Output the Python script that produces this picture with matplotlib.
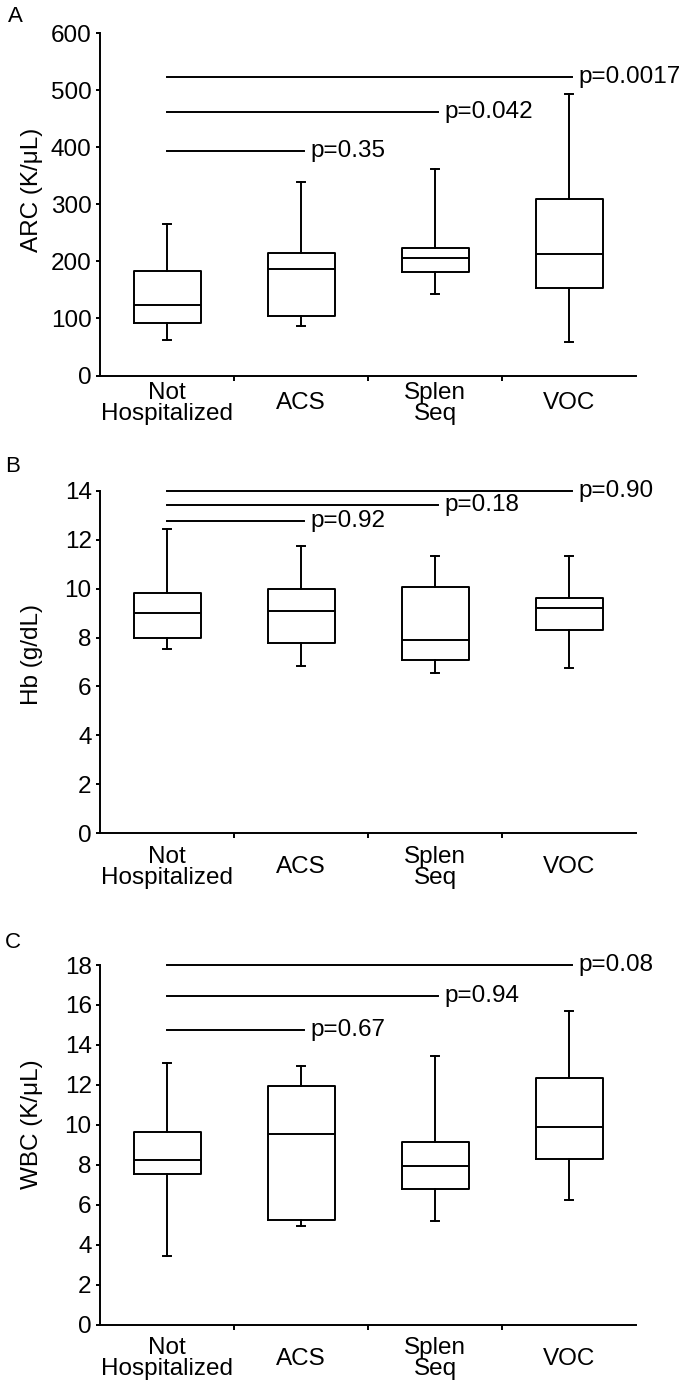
import matplotlib
matplotlib.use("Agg")
import matplotlib.pyplot as plt

plt.rcParams['font.family'] = ['Liberation Sans', 'DejaVu Sans']

categories = ["Not\nHospitalized", "ACS", "Splen\nSeq", "VOC"]

# Panel A: ARC (K/uL)
arc_whislo = [63, 86, 143, 59]
arc_q1 = [92, 104, 181, 153]
arc_med = [123, 186, 206, 213]
arc_q3 = [184, 215, 224, 310]
arc_whishi = [265, 340, 362, 494]
arc_pvals = ["p=0.35", "p=0.042", "p=0.0017"]
arc_plines = [393, 462, 524]

# Panel B: Hb (g/dL)
hb_whislo = [7.53, 6.83, 6.55, 6.76]
hb_q1 = [8.0, 7.79, 7.08, 8.30]
hb_med = [9.0, 9.09, 7.89, 9.21]
hb_q3 = [9.80, 10.0, 10.08, 9.6]
hb_whishi = [12.42, 11.72, 11.32, 11.32]
hb_pvals = ["p=0.92", "p=0.18", "p=0.90"]
hb_plines = [12.78, 13.4, 14.0]

# Panel C: WBC (K/uL)
wbc_whislo = [3.42, 4.92, 5.18, 6.25]
wbc_q1 = [7.53, 5.23, 6.77, 8.28]
wbc_med = [8.23, 9.53, 7.93, 9.9]
wbc_q3 = [9.63, 11.95, 9.12, 12.32]
wbc_whishi = [13.1, 12.92, 13.45, 15.68]
wbc_pvals = ["p=0.67", "p=0.94", "p=0.08"]
wbc_plines = [14.75, 16.45, 18.0]

H = 1392.0
panels = [
    dict(letter="A", ylabel="ARC (K/\u03bcL)", ylim=600, yticks=range(0, 601, 100),
         lo=arc_whislo, q1=arc_q1, med=arc_med, q3=arc_q3, hi=arc_whishi,
         pv=arc_pvals, pl=arc_plines, top=33.3, bot=375.5, lab_y=0.541,
         let_xy=(15, 16), xpad=20),
    dict(letter="B", ylabel="Hb (g/dL)", ylim=14, yticks=range(0, 15, 2),
         lo=hb_whislo, q1=hb_q1, med=hb_med, q3=hb_q3, hi=hb_whishi,
         pv=hb_pvals, pl=hb_plines, top=490.7, bot=833.3, lab_y=0.523,
         let_xy=(13, 466), xpad=24.5),
    dict(letter="C", ylabel="WBC (K/\u03bcL)", ylim=18, yticks=range(0, 19, 2),
         lo=wbc_whislo, q1=wbc_q1, med=wbc_med, q3=wbc_q3, hi=wbc_whishi,
         pv=wbc_pvals, pl=wbc_plines, top=965, bot=1324.5, lab_y=0.556,
         let_xy=(13, 942), xpad=24.5),
]

fig = plt.figure(figsize=(6.87, 13.92), dpi=100)
FS = 17.5
LW = 1.4
left, width = 100 / 687, 536 / 687

for p in panels:
    ax = fig.add_axes([left, 1 - p["bot"] / H, width, (p["bot"] - p["top"]) / H])
    stats = []
    for i in range(4):
        stats.append(dict(whislo=p["lo"][i], q1=p["q1"][i], med=p["med"][i],
                          q3=p["q3"][i], whishi=p["hi"][i], fliers=[]))
    lp = dict(color="black", linewidth=LW)
    ax.bxp(stats, positions=range(4), widths=0.5, capwidths=0.055, showfliers=False,
           boxprops=lp, medianprops=lp, whiskerprops=lp, capprops=lp)
    ax.set_xlim(-0.5, 3.5)
    ax.set_ylim(0, p["ylim"])
    ax.set_yticks(list(p["yticks"]))
    ax.set_xticks(range(4))
    ax.set_xticklabels(categories, fontsize=FS, va="center", linespacing=0.95)
    ax.set_xticks([0.5, 1.5, 2.5], minor=True)
    ax.tick_params(axis="x", which="major", length=0, pad=p["xpad"])
    ax.tick_params(axis="x", which="minor", length=3.5, width=LW, direction="out")
    ax.tick_params(axis="y", length=3, width=LW, direction="out", labelsize=FS, pad=3)
    for s in ["top", "right"]:
        ax.spines[s].set_visible(False)
    for s in ["left", "bottom"]:
        ax.spines[s].set_linewidth(LW)
    ax.set_ylabel(p["ylabel"], fontsize=FS)
    ax.yaxis.set_label_coords(-0.106, p["lab_y"])
    for k, (txt, yv) in enumerate(zip(p["pv"], p["pl"])):
        ax.plot([0, k + 1.02], [yv, yv], color="black", linewidth=LW, clip_on=False)
        ax.text(k + 1.07, yv, txt, fontsize=FS, ha="left", va="center", clip_on=False)
    lx, ly = p["let_xy"]
    fig.text(lx / 687, 1 - ly / H, p["letter"], fontsize=16, ha="center", va="center")

fig.savefig("out.png", dpi=100)
